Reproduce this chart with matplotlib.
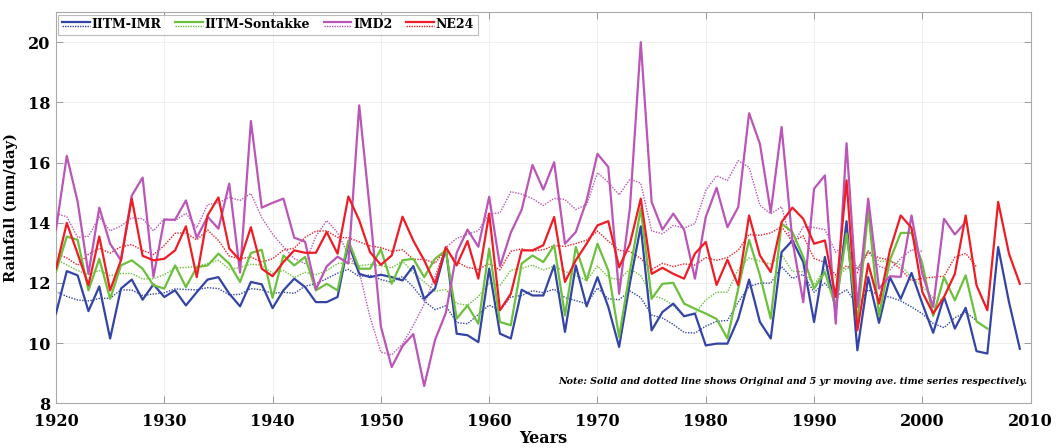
import matplotlib
matplotlib.use("Agg")
import matplotlib.pyplot as plt
from matplotlib.legend_handler import HandlerBase
from matplotlib.lines import Line2D

plt.rcParams['font.family'] = ['DejaVu Serif']
plt.rcParams['font.weight'] = 'bold'

# original series (mm/day), one value per year from 1920
imr = [10.98, 12.39, 12.25, 11.06, 11.88, 10.15, 11.81, 12.11, 11.44, 11.95,
       11.53, 11.75, 11.25, 11.69, 12.11, 12.19, 11.64, 11.22, 12.03, 11.95,
       11.16, 11.75, 12.14, 11.86, 11.36, 11.36, 11.53, 13.32, 12.30, 12.19,
       12.27, 12.19, 12.08, 12.56, 11.47, 11.81, 13.14, 10.31, 10.26, 10.03,
       12.47, 10.31, 10.15, 11.77, 11.58, 11.58, 12.58, 10.37, 12.58, 11.22,
       12.19, 11.20, 9.87, 12.00, 13.88, 10.42, 11.03, 11.31, 10.89, 10.98,
       9.92, 9.98, 9.98, 10.81, 12.11, 10.70, 10.15, 13.02, 13.41, 12.69,
       10.70, 12.86, 11.09, 14.05, 9.76, 12.19, 10.67, 12.19, 11.47, 12.33,
       11.31, 10.34, 11.53, 10.48, 11.17, 9.73, 9.65, 13.19, 11.36, 9.81]
sontakke = [12.36, 13.54, 13.43, 11.75, 12.80, 11.47, 12.58, 12.75, 12.47, 11.92,
            11.81, 12.58, 11.86, 12.52, 12.58, 12.97, 12.64, 12.03, 12.99, 13.10,
            11.50, 12.91, 12.58, 12.86, 11.75, 11.97, 11.75, 13.41, 12.47, 12.47,
            13.12, 11.97, 12.75, 12.80, 12.19, 12.80, 13.08, 10.81, 11.25, 10.64,
            13.14, 10.70, 10.59, 12.64, 12.91, 12.69, 13.25, 10.92, 13.19, 12.08,
            13.30, 12.41, 10.20, 12.40, 14.47, 11.47, 11.97, 12.00, 11.31, 11.14,
            10.98, 10.80, 10.15, 11.81, 13.43, 12.25, 10.81, 13.97, 13.69, 12.86,
            11.81, 12.36, 11.20, 13.64, 10.70, 14.41, 10.90, 12.75, 13.66, 13.66,
            12.64, 10.90, 12.19, 11.42, 12.25, 10.72, 10.48]
imd2 = [13.77, 16.22, 14.70, 12.30, 14.50, 13.30, 12.75, 14.90, 15.50, 12.20,
        14.10, 14.10, 14.74, 13.50, 14.20, 13.80, 15.30, 12.34, 17.38, 14.50,
        14.66, 14.80, 13.50, 13.37, 11.78, 12.55, 12.87, 12.64, 17.90, 14.37,
        10.55, 9.20, 9.90, 10.30, 8.57, 10.10, 11.00, 13.00, 13.77, 13.20,
        14.86, 12.55, 13.67, 14.43, 15.92, 15.10, 16.01, 13.30, 13.69, 14.74,
        16.29, 15.85, 11.64, 14.50, 20.00, 14.69, 13.77, 14.30, 13.77, 12.14,
        14.19, 15.16, 13.85, 14.52, 17.64, 16.62, 14.35, 17.18, 13.41, 11.36,
        15.13, 15.57, 10.64, 16.64, 11.20, 14.80, 11.81, 12.22, 12.20, 14.24,
        12.30, 11.20, 14.13, 13.61, 14.02]
ne24 = [12.47, 13.99, 12.97, 11.92, 13.54, 11.75, 12.75, 14.80, 12.90, 12.75,
        12.80, 13.08, 13.88, 12.19, 14.24, 14.84, 13.14, 12.75, 13.85, 12.47,
        12.22, 12.69, 13.08, 13.00, 13.00, 13.69, 12.97, 14.87, 14.08, 13.02,
        12.60, 12.91, 14.20, 13.40, 12.75, 11.97, 13.19, 12.58, 13.39, 12.14,
        14.30, 11.09, 11.64, 13.08, 13.08, 13.25, 14.19, 12.03, 12.75, 13.30,
        13.91, 14.05, 12.52, 13.30, 14.80, 12.30, 12.50, 12.30, 12.14, 12.97,
        13.36, 11.93, 12.77, 11.92, 14.24, 12.91, 12.36, 14.02, 14.50, 14.13,
        13.30, 13.41, 11.53, 15.41, 10.42, 12.64, 11.31, 13.08, 14.24, 13.83,
        11.69, 10.98, 11.53, 12.30, 14.24, 11.92, 11.09, 14.69, 12.97, 11.97]

# 5 yr moving average (dotted), one value per year from 1920
imr_ma = [11.71, 11.55, 11.43, 11.40, 11.48, 11.49, 11.77, 11.76, 11.58, 11.63,
          11.67, 11.80, 11.78, 11.77, 11.84, 11.81, 11.60, 11.62, 11.81, 11.77,
          11.65, 11.69, 11.65, 11.89, 11.97, 12.14, 12.32, 12.45, 12.21, 12.26,
          12.11, 12.02, 12.21, 11.86, 11.40, 11.11, 11.24, 10.68, 10.64, 10.95,
          11.26, 11.08, 11.53, 11.58, 11.74, 11.67, 11.79, 11.51, 11.41, 11.30,
          11.83, 11.47, 11.44, 11.73, 11.51, 10.93, 10.83, 10.62, 10.35, 10.33,
          10.56, 10.72, 10.75, 11.36, 11.88, 11.99, 11.99, 12.54, 12.15, 12.28,
          11.69, 11.99, 11.55, 11.77, 11.26, 11.77, 11.59, 11.53, 11.40, 11.20,
          10.97, 10.65, 10.51, 10.84, 11.02, 10.75]
sontakke_ma = [12.78, 12.60, 12.41, 12.27, 12.41, 12.24, 12.31, 12.31, 12.13, 12.14,
               12.27, 12.50, 12.51, 12.55, 12.64, 12.75, 12.45, 12.51, 12.62, 12.59,
               12.32, 12.41, 12.18, 12.35, 12.27, 12.41, 12.64, 12.69, 12.56, 12.62,
               12.57, 12.50, 12.72, 12.34, 12.03, 11.72, 11.78, 11.31, 11.26, 11.54,
               12.00, 11.91, 12.42, 12.48, 12.59, 12.43, 12.55, 12.38, 12.24, 12.08,
               12.56, 12.19, 12.10, 12.46, 12.24, 11.58, 11.48, 11.25, 10.88, 10.98,
               11.43, 11.69, 11.69, 12.45, 12.83, 12.72, 12.63, 12.94, 12.38, 12.37,
               11.94, 12.46, 12.17, 12.48, 12.48, 13.08, 12.72, 12.72, 12.61, 12.16,
               11.88, 11.50, 11.41]
imd2_ma = [14.30, 14.20, 13.51, 13.55, 14.19, 13.73, 13.89, 14.16, 14.13, 13.73,
           14.13, 14.07, 14.31, 13.83, 14.60, 14.66, 14.84, 14.74, 14.97, 14.17,
           13.62, 13.20, 12.81, 12.64, 13.55, 14.07, 13.67, 12.93, 12.38, 10.86,
           9.70, 9.61, 9.97, 10.59, 11.29, 12.21, 13.17, 13.48, 13.61, 13.74,
           14.29, 14.33, 15.03, 14.95, 14.80, 14.57, 14.81, 14.77, 14.44, 14.60,
           15.66, 15.34, 14.92, 15.45, 15.31, 13.73, 13.63, 13.91, 13.82, 13.97,
           15.07, 15.56, 15.40, 16.06, 15.84, 14.58, 14.29, 14.53, 13.22, 13.87,
           13.84, 13.77, 13.02, 13.33, 12.45, 13.05, 12.55, 12.43, 12.81, 13.10,
           13.05]
ne24_ma = [12.98, 12.83, 12.59, 12.95, 13.15, 12.99, 13.20, 13.27, 13.08, 12.94,
           13.24, 13.65, 13.66, 13.43, 13.76, 13.41, 12.89, 12.80, 12.86, 12.69,
           12.80, 13.09, 13.15, 13.51, 13.72, 13.73, 13.51, 13.50, 13.36, 13.23,
           13.17, 13.05, 13.10, 12.78, 12.78, 12.65, 13.12, 12.70, 12.51, 12.45,
           12.64, 12.43, 13.05, 13.13, 13.06, 13.10, 13.24, 13.21, 13.31, 13.42,
           13.72, 13.39, 13.08, 13.04, 12.81, 12.44, 12.65, 12.54, 12.63, 12.59,
           12.84, 12.75, 12.84, 13.09, 13.61, 13.58, 13.66, 13.87, 13.37, 13.56,
           12.81, 12.68, 12.26, 12.57, 12.34, 13.02, 12.83, 12.76, 12.45, 12.07,
           12.15, 12.19, 12.22, 12.85, 12.98, 12.53]

names = ['IITM-IMR', 'IITM-Sontakke', 'IMD2', 'NE24']
colors = ['#3344a6', '#6cc03c', '#bb55b8', '#ee1d25']
originals = [imr, sontakke, imd2, ne24]
averages = [imr_ma, sontakke_ma, imd2_ma, ne24_ma]
start = 1920


class HandlerDouble(HandlerBase):
    # solid line on top, dotted line just under it
    def create_artists(self, legend, orig_handle, xdescent, ydescent,
                       width, height, fontsize, trans):
        solid, dotted = orig_handle
        yc = height / 2 - ydescent
        x0, x1 = -xdescent, width - xdescent
        top = Line2D([x0, x1], [yc + 1.4, yc + 1.4], color=solid.get_color(),
                     lw=solid.get_linewidth(), ls='-')
        bot = Line2D([x0, x1], [yc - 1.4, yc - 1.4], color=dotted.get_color(),
                     lw=dotted.get_linewidth(), ls=(0, (1, 0.8)))
        top.set_transform(trans)
        bot.set_transform(trans)
        return [top, bot]


fig = plt.figure(figsize=(10.56, 4.48), dpi=100)
ax = fig.add_axes([0.053, 0.1, 0.923, 0.873])

handles = []
for name, c, orig, ma in zip(names, colors, originals, averages):
    l1, = ax.plot(range(start, start + len(orig)), orig, color=c, lw=1.6, zorder=3)
    l2, = ax.plot(range(start, start + len(ma)), ma, color=c, lw=1.0,
                  ls=(0, (1, 1)), zorder=2)
    handles.append((l1, l2))

ax.set_xlim(1920, 2010)
ax.set_ylim(8, 21)
ax.set_xticks(range(1920, 2011, 10))
ax.set_yticks(range(8, 21, 2))
ax.grid(True, color='#ececec', lw=0.6)
ax.set_axisbelow(True)
ax.tick_params(direction='in', top=True, right=True, length=5, width=0.7,
               color='#999999', labelsize=11.5)
ax.tick_params(axis='y', pad=4)
ax.tick_params(axis='x', pad=7)
for sp in ax.spines.values():
    sp.set_color('#aaaaaa')
    sp.set_linewidth(0.8)

ax.set_xlabel('Years', fontsize=11.5, fontweight='bold')
ax.set_ylabel('Rainfall (mm/day)', fontsize=10.5, fontweight='bold')
ax.xaxis.set_label_coords(0.5, -0.068)
ax.yaxis.set_label_coords(-0.039, 0.5)

leg = ax.legend(handles, names, handler_map={tuple: HandlerDouble()},
                loc='upper left', ncol=4, frameon=True,
                fancybox=False, edgecolor='#aaaaaa', handlelength=2.2,
                handletextpad=0.15, columnspacing=1.1, borderpad=0.3,
                borderaxespad=0.2, prop={'weight': 'bold', 'size': 9})
leg.get_frame().set_linewidth(0.8)

ax.text(0.996, 0.045,
        'Note: Solid and dotted line shows Original and 5 yr moving ave. time series respectively.',
        transform=ax.transAxes, ha='right', va='bottom', fontsize=6.8,
        fontstyle='italic', fontweight='bold')

fig.savefig('out.png', dpi=100)
